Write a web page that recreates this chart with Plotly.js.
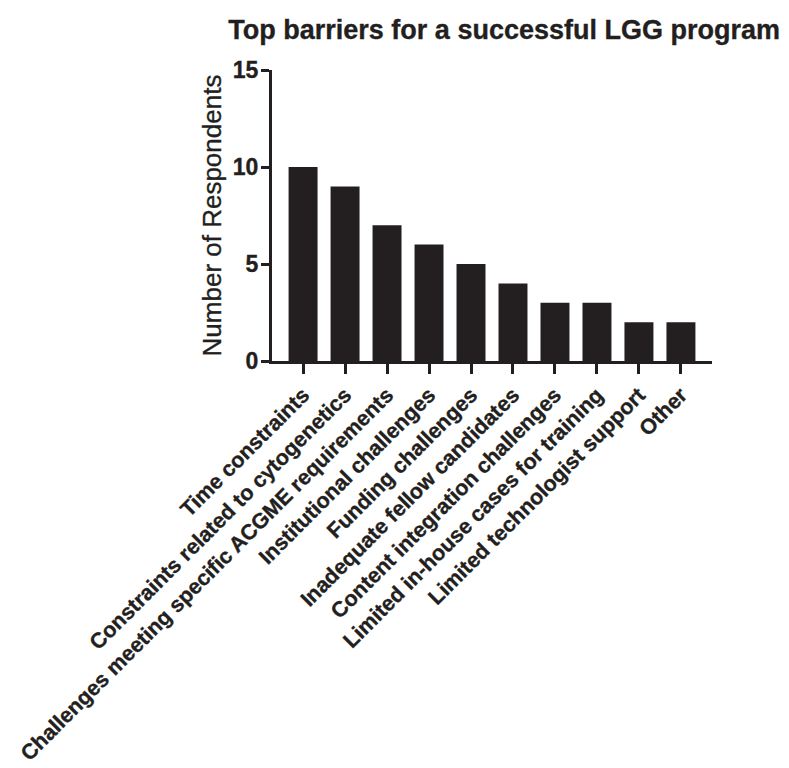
<!DOCTYPE html>
<html>
<head>
<meta charset="utf-8">
<script src="https://cdn.plot.ly/plotly-3.0.1.min.js"></script>
<style>
html,body{margin:0;padding:0;background:#fff;}
#chart{width:789px;height:768px;}
#chart .xtick text, #chart .ytick text, #chart .gtitle, #chart .ytitle {stroke:#231f20; stroke-width:0.35px;}
</style>
</head>
<body>
<div id="chart"></div>
<script>
const categories = [
  "Time constraints",
  "Constraints related to cytogenetics",
  "Challenges meeting specific ACGME requirements",
  "Institutional challenges",
  "Funding challenges",
  "Inadequate fellow candidates",
  "Content integration challenges",
  "Limited in-house cases for training",
  "Limited technologist support",
  "Other"
];
const respondents = [10, 9, 7, 6, 5, 4, 3, 3, 2, 2];
const yTicks = [0, 5, 10, 15];

const ink = "#231f20";
const font = "Liberation Sans, Arial, sans-serif";

const trace = {
  type: "bar",
  x: categories,
  y: respondents,
  width: 0.69,
  marker: {color: ink, line: {width: 0}},
  hoverinfo: "x+y"
};

const layout = {
  width: 789,
  height: 768,
  paper_bgcolor: "#fff",
  plot_bgcolor: "#fff",
  margin: {l: 272, r: 77, t: 70, b: 407},
  showlegend: false,
  font: {family: font, color: ink},
  title: {
    text: "<b>Top barriers for a successful LGG program</b>",
    font: {family: font, size: 27, color: ink},
    xref: "container", x: 0.639, xanchor: "center",
    yref: "container", y: 0.961, yanchor: "middle"
  },
  xaxis: {
    type: "category",
    range: [-0.74, 9.74],
    showgrid: false,
    zeroline: false,
    showline: true,
    linecolor: ink,
    linewidth: 3,
    ticks: "outside",
    ticklen: 10,
    tickwidth: 3,
    tickcolor: ink,
    tickangle: -45,
    tickfont: {family: font, size: 21.5, color: ink, weight: "bold"},
    fixedrange: true
  },
  yaxis: {
    range: [0, 15],
    tickvals: yTicks,
    ticktext: yTicks.map(String),
    showgrid: false,
    zeroline: false,
    showline: true,
    linecolor: ink,
    linewidth: 3,
    ticks: "outside",
    ticklen: 8,
    tickwidth: 3,
    tickcolor: ink,
    ticklabelstandoff: -2,
    tickfont: {family: font, size: 23, color: ink, weight: "bold"},
    title: {
      text: "Number of Respondents",
      font: {family: font, size: 26, color: ink},
      standoff: 4
    },
    fixedrange: true
  },
  bargap: 0.31
};

Plotly.newPlot("chart", [trace], layout, {displayModeBar: false, staticPlot: true});
</script>
</body>
</html>
